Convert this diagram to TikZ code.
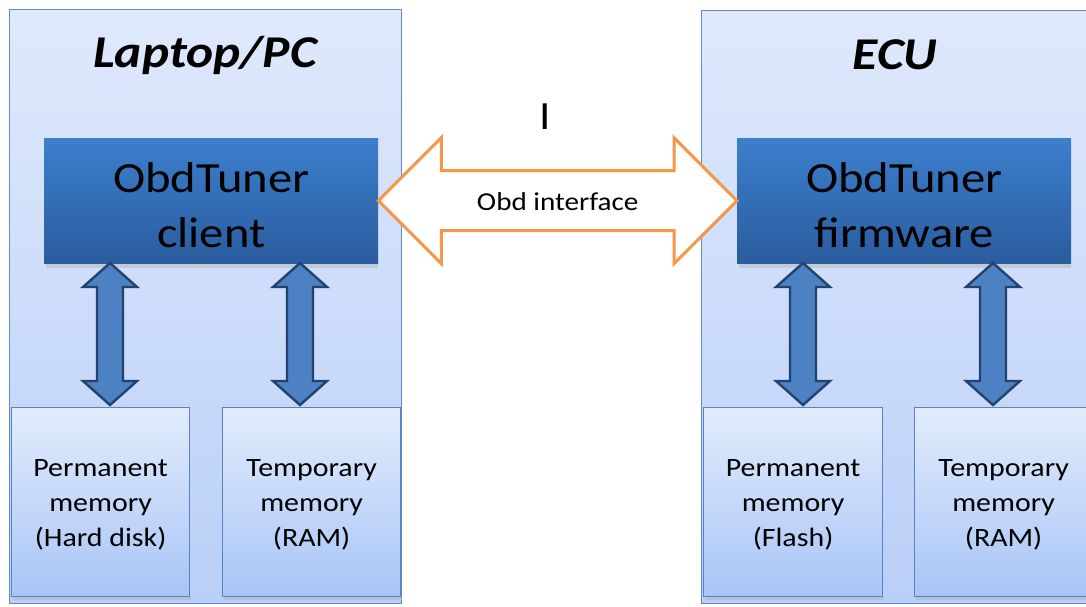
\documentclass[tikz,border=0pt]{standalone}
\usepackage{fontspec}
\setmainfont[FakeStretch=1.13]{Carlito}
\usetikzlibrary{calc}
\definecolor{outerTop}{RGB}{223,233,252}
\definecolor{outerBot}{RGB}{186,207,248}
\definecolor{outerLine}{RGB}{95,138,200}
\definecolor{blueTop}{RGB}{60,127,205}
\definecolor{blueBot}{RGB}{42,92,158}
\definecolor{memTop}{RGB}{226,236,253}
\definecolor{memBot}{RGB}{168,197,246}
\definecolor{memLine}{RGB}{88,130,192}
\definecolor{varFill}{RGB}{76,130,196}
\definecolor{varLine}{RGB}{36,66,108}
\definecolor{orangeLine}{RGB}{247,150,70}
\tikzset{
  outerbox/.style={draw=outerLine, line width=1.2pt, top color=outerTop, bottom color=outerBot, anchor=north west, inner sep=0pt},
  bluebox/.style={top color=blueTop, bottom color=blueBot, anchor=north west, inner sep=0pt, minimum width=334pt, minimum height=125pt},
  bluetext/.style={align=center, font=\fontsize{43}{55}\selectfont, text=black, inner sep=0pt},
  memorybox/.style={draw=memLine, line width=1.2pt, top color=memTop, bottom color=memBot, anchor=north west, inner sep=0pt, minimum width=178pt, minimum height=189pt},
  memtext/.style={align=center, font=\fontsize{26.5}{35}\selectfont, text=black, inner sep=0pt},
  titletext/.style={font=\fontsize{45.5}{52}\selectfont\bfseries\itshape, text=black},
  vertarrow/.style={fill=varFill, draw=varLine, line width=2.4pt, line join=miter},
  obdarrow/.style={fill=white, draw=orangeLine, line width=3pt, line join=miter},
  shadowbox/.style={fill=black!30, opacity=0.45},
}
\begin{document}
\begin{tikzpicture}[x=1pt,y=1pt]
\useasboundingbox (0,0) rectangle (1086,-606);
% outer containers
\node[outerbox, minimum width=392pt, minimum height=594pt] (pc) at (9,-9) {};
\node[outerbox, minimum width=394pt, minimum height=593pt] (ecu) at (701,-10) {};
\node[titletext] (pct) at (205,-55) {Laptop/PC};
\node[titletext] (ecut) at (895,-55) {ECU};
% shadows
\fill[shadowbox] (46,-263) rectangle (378,-268);
\fill[shadowbox] (739,-263) rectangle (1071,-268);
% blue boxes
\node[bluebox] (client) at (44,-138) {};
\node[bluetext] (clientl) at ($(client.center)+(0,-5)$) {ObdTuner\\client};
\node[bluebox] (firm) at (737,-138) {};
\node[bluetext] (firml) at ($(firm.center)+(0,-5)$) {ObdTuner\\firmware};
% memory boxes
\fill[shadowbox] (13,-596) rectangle (191,-600);
\fill[shadowbox] (224,-596) rectangle (402,-600);
\fill[shadowbox] (705,-596) rectangle (884,-600);
\fill[shadowbox] (916,-596) rectangle (1094,-600);
\node[memorybox] (pcperm) at (11,-407) {};
\node[memorybox] (pctemp) at (222,-407) {};
\node[memorybox, minimum width=179pt] (ecuperm) at (703,-407) {};
\node[memorybox] (ecutemp) at (914,-407) {};
\node[memtext] (pcperml) at ($(pcperm.center)+(0,-2.5)$) {Permanent\\memory\\(Hard disk)};
\node[memtext] (pctempl) at ($(pctemp.center)+(0,-2.5)$) {Temporary\\memory\\(RAM)};
\node[memtext] (ecuperml) at ($(ecuperm.center)+(0,-2.5)$) {Permanent\\memory\\(Flash)};
\node[memtext] (ecutempl) at ($(ecutemp.center)+(0,-2.5)$) {Temporary\\memory\\(RAM)};
% vertical double arrows
\foreach \n/\xx in {a/110, b/300, c/803, d/993}{
  \coordinate (\n T) at (\xx,-263);
  \coordinate (\n B) at (\xx,-405);
  \draw[vertarrow] (\n T) -- ($(\n T)+(27,-24)$) -- ($(\n T)+(13,-24)$) -- ($(\n B)+(13,24)$) -- ($(\n B)+(27,24)$)
    -- (\n B) -- ($(\n B)+(-27,24)$) -- ($(\n B)+(-13,24)$) -- ($(\n T)+(-13,-24)$) -- ($(\n T)+(-27,-24)$) -- cycle;
}
% obd interface arrow
\coordinate (oL) at (client.east);
\coordinate (oR) at (firm.west);
\draw[obdarrow] (oL) -- ($(oL)+(63,63)$) -- ($(oL)+(63,30)$) -- ($(oR)+(-63,30)$) -- ($(oR)+(-63,63)$) -- (oR)
  -- ($(oR)+(-63,-63)$) -- ($(oR)+(-63,-30)$) -- ($(oL)+(63,-30)$) -- ($(oL)+(63,-63)$) -- cycle;
\node[font=\fontsize{25.8}{30}\selectfont] (obdl) at ($(oL)!0.5!(oR)+(0,-1)$) {Obd interface};
\node[font=\fontsize{40}{48}\selectfont] (cursor) at (545,-117) {I};
\end{tikzpicture}
\end{document}
